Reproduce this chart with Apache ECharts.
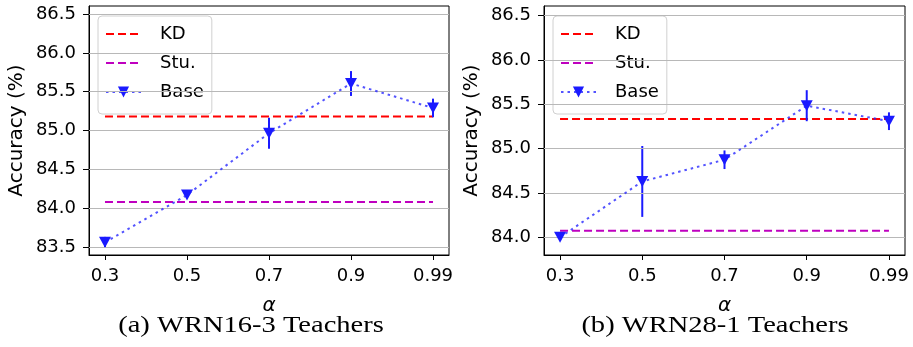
<!DOCTYPE html>
<html>
<head>
<meta charset="utf-8">
<script src="https://cdn.jsdelivr.net/npm/echarts@6.0.0/dist/echarts.min.js"></script>
<style>
  html, body { margin: 0; padding: 0; background: #fff; }
  #main { width: 913px; height: 347px; }
</style>
</head>
<body>
<div id="main"></div>
<script>
// alpha values on the x axis (shown evenly spaced)
var alphaLabels = ['0.3', '0.5', '0.7', '0.9', '0.99'];

// (a) WRN16-3 teachers
var baseA = [83.56, 84.17, 84.965, 85.605, 85.29];
var errA = [0.07, 0.04, 0.20, 0.16, 0.12];
var kdA = 85.18;
var stuA = 84.08;
var ticksA = [83.5, 84.0, 84.5, 85.0, 85.5, 86.0, 86.5];

// (b) WRN28-1 teachers
var baseB = [84.00, 84.63, 84.875, 85.485, 85.31];
var errB = [0.03, 0.40, 0.105, 0.175, 0.10];
var kdB = 85.335;
var stuB = 84.075;
var ticksB = [84.0, 84.5, 85.0, 85.5, 86.0, 86.5];

var captions = ['(a) WRN16-3 Teachers', '(b) WRN28-1 Teachers'];

var FONT = 'DejaVu Sans';
var idx = alphaLabels.map(function (_, i) { return i; });

function xAxisFor(gi) {
  return {
    type: 'value', gridIndex: gi, min: -0.195, max: 4.195,
    name: 'α', nameLocation: 'middle', nameGap: 41,
    nameTextStyle: { fontFamily: FONT, fontSize: 20, fontStyle: 'italic', color: '#000' },
    axisLine: { show: true, onZero: false, lineStyle: { color: '#000', width: 1 } },
    axisTick: { show: true, length: 5, customValues: idx, lineStyle: { color: '#000' } },
    axisLabel: {
      customValues: idx, margin: 12, fontFamily: FONT, fontSize: 18, color: '#000',
      formatter: function (v) { return alphaLabels[Math.round(v)]; }
    },
    splitLine: { show: false }
  };
}

function yAxisFor(gi, min, max, ticks) {
  return {
    type: 'value', gridIndex: gi, min: min, max: max,
    name: 'Accuracy (%)', nameLocation: 'middle', nameGap: 62,
    nameTextStyle: { fontFamily: FONT, fontSize: 20, color: '#000' },
    axisLine: { show: true, onZero: false, lineStyle: { color: '#000', width: 1 } },
    axisTick: { show: true, length: 6, customValues: ticks, lineStyle: { color: '#000' } },
    axisLabel: {
      customValues: ticks, margin: 13, fontFamily: FONT, fontSize: 18, color: '#000',
      formatter: function (v) { return v.toFixed(1); }
    },
    splitLine: { show: false }
  };
}

function gridLines(gi, ticks) {
  return {
    name: 'grid' + gi, type: 'line', xAxisIndex: gi, yAxisIndex: gi, data: [],
    silent: true,
    markLine: {
      silent: true, symbol: 'none', label: { show: false },
      lineStyle: { color: '#b8b8b8', width: 1, type: 'solid' },
      data: ticks.map(function (t) { return { yAxis: t }; })
    }
  };
}

function seriesFor(gi, base, err, kd, stu, ticks) {
  var last = alphaLabels.length - 1;
  return [
    gridLines(gi, ticks),
    {
      name: 'KD', type: 'line', xAxisIndex: gi, yAxisIndex: gi,
      data: [[0, kd], [last, kd]], showSymbol: false, symbol: 'none',
      lineStyle: { color: '#ff0000', width: 2, type: [8, 4] }, itemStyle: { color: '#ff0000' }, z: 3
    },
    {
      name: 'Stu.', type: 'line', xAxisIndex: gi, yAxisIndex: gi,
      data: [[0, stu], [last, stu]], showSymbol: false, symbol: 'none',
      lineStyle: { color: '#bf00bf', width: 2, type: [8, 4] }, itemStyle: { color: '#bf00bf' }, z: 3
    },
    {
      name: 'errbar' + gi, type: 'custom', xAxisIndex: gi, yAxisIndex: gi, z: 4,
      data: base.map(function (v, i) { return [i, v - err[i], v + err[i]]; }),
      renderItem: function (params, api) {
        var p1 = api.coord([api.value(0), api.value(1)]);
        var p2 = api.coord([api.value(0), api.value(2)]);
        return {
          type: 'line',
          shape: { x1: p1[0], y1: p1[1], x2: p2[0], y2: p2[1] },
          style: { stroke: '#1a1aff', lineWidth: 2 }
        };
      }
    },
    {
      name: 'Base', type: 'line', xAxisIndex: gi, yAxisIndex: gi, z: 5,
      data: base.map(function (v, i) { return [i, v]; }),
      symbol: 'triangle', symbolRotate: 180, symbolSize: [12, 11], showSymbol: true,
      lineStyle: { color: 'rgba(40,40,255,0.8)', width: 2, type: [2.5, 4] },
      itemStyle: { color: '#1a1aff' }
    }
  ];
}

function legendFor(left) {
  return {
    data: [
      { name: 'KD', itemStyle: { opacity: 0 } },
      { name: 'Stu.', itemStyle: { opacity: 0 } },
      { name: 'Base' }
    ],
    orient: 'vertical', left: left, top: 16,
    padding: [9, 8, 13, 7], itemGap: 11, itemWidth: 35, itemHeight: 14,
    backgroundColor: 'rgba(255,255,255,0.85)', borderColor: '#d0d0d0', borderWidth: 1,
    borderRadius: 4, selectedMode: false,
    textStyle: { fontFamily: FONT, fontSize: 18, color: '#000', padding: [0, 0, 0, 14] }
  };
}

var chart = echarts.init(document.getElementById('main'), null, { renderer: 'canvas' });
chart.setOption({
  animation: false,
  backgroundColor: '#fff',
  grid: [
    { left: 89, right: 464, top: 6, bottom: 92, show: true, borderColor: '#000', borderWidth: 1, backgroundColor: 'transparent' },
    { left: 544, right: 8, top: 6, bottom: 92, show: true, borderColor: '#000', borderWidth: 1, backgroundColor: 'transparent' }
  ],
  xAxis: [xAxisFor(0), xAxisFor(1)],
  yAxis: [yAxisFor(0, 83.397, 86.603, ticksA), yAxisFor(1, 83.80, 86.61, ticksB)],
  legend: [legendFor(98), legendFor(553)],
  series: seriesFor(0, baseA, errA, kdA, stuA, ticksA).concat(seriesFor(1, baseB, errB, kdB, stuB, ticksB)),
  graphic: [
    {
      type: 'text', x: 251, y: 326, scaleX: 1.24,
      style: { text: captions[0], fontFamily: 'Liberation Serif', fontSize: 23, fill: '#000', align: 'center', verticalAlign: 'middle' }
    },
    {
      type: 'text', x: 715, y: 326, scaleX: 1.24,
      style: { text: captions[1], fontFamily: 'Liberation Serif', fontSize: 23, fill: '#000', align: 'center', verticalAlign: 'middle' }
    }
  ]
});
</script>
</body>
</html>
